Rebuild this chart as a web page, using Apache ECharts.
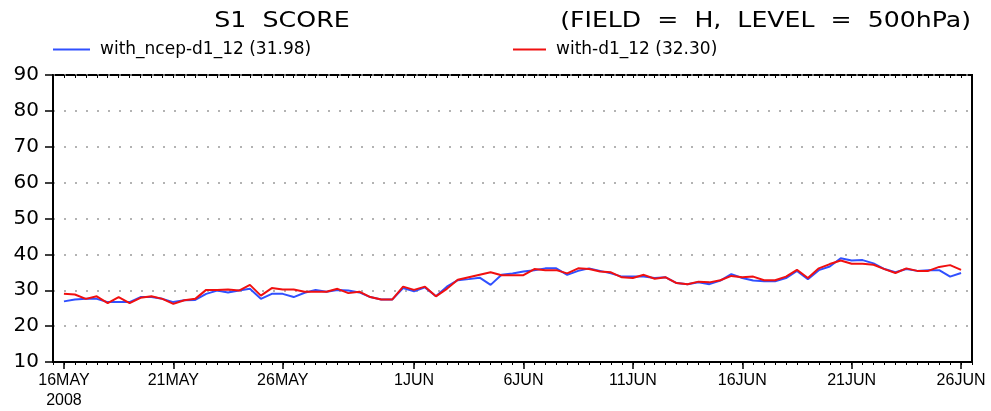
<!DOCTYPE html>
<html>
<head>
<meta charset="utf-8">
<script src="https://cdn.jsdelivr.net/npm/echarts@6/dist/echarts.min.js"></script>
<style>
html,body{margin:0;padding:0;background:#fff;}
#chart{width:991px;height:411px;}
</style>
</head>
<body>
<div id="chart"></div>
<script>
// time steps: every 12 hours starting 16MAY2008 00Z (index 0) to 26JUN2008 00Z (index 82)
const tickIndex = [0, 10, 20, 32, 42, 52, 62, 72, 82];
const tickLabels = ['16MAY\n2008', '21MAY', '26MAY', '1JUN', '6JUN', '11JUN', '16JUN', '21JUN', '26JUN'];
const yTicks = [10, 20, 30, 40, 50, 60, 70, 80, 90];

const seriesNames = ['with_ncep-d1_12 (31.98)', 'with-d1_12 (32.30)'];

const withNcep = [
  26.9, 27.4, 27.6, 27.6, 26.7, 26.7, 26.7, 28.1, 28.1, 27.6,
  26.7, 27.2, 27.3, 29.0, 29.9, 29.4, 29.9, 30.4, 27.6, 29.0,
  29.0, 28.1, 29.3, 30.1, 29.6, 30.1, 29.9, 29.4, 28.1, 27.4,
  27.4, 30.6, 29.7, 30.8, 28.3, 31.0, 32.8, 33.1, 33.5, 31.5,
  34.3, 34.7, 35.2, 35.6, 36.1, 36.1, 34.3, 35.4, 36.1, 35.4,
  34.7, 33.8, 33.8, 33.8, 33.4, 33.6, 32.0, 31.7, 32.2, 31.7,
  32.7, 34.5, 33.4, 32.7, 32.5, 32.5, 33.4, 35.4, 33.1, 35.6,
  36.6, 38.9, 38.3, 38.4, 37.5, 35.9, 35.0, 35.9, 35.4, 35.6,
  35.6, 33.8, 34.8
];

const withD1 = [
  29.0, 28.8, 27.6, 28.3, 26.4, 28.1, 26.4, 27.9, 28.3, 27.6,
  26.2, 27.2, 27.6, 30.1, 30.1, 30.2, 29.9, 31.5, 28.5, 30.6,
  30.2, 30.2, 29.6, 29.6, 29.6, 30.4, 29.2, 29.6, 28.1, 27.4,
  27.4, 31.0, 30.1, 31.0, 28.3, 30.4, 32.9, 33.6, 34.3, 35.0,
  34.2, 34.2, 34.2, 35.9, 35.6, 35.6, 34.7, 36.1, 35.9, 35.2,
  35.0, 33.6, 33.4, 34.3, 33.2, 33.6, 32.0, 31.7, 32.4, 32.2,
  32.8, 34.0, 33.6, 33.8, 32.8, 32.8, 33.8, 35.7, 33.4, 36.1,
  37.3, 38.3, 37.4, 37.4, 37.1, 35.9, 34.8, 36.1, 35.4, 35.4,
  36.5, 37.0, 35.7
];

const stepIndex = [];
for (let i = -1; i <= 83; i++) stepIndex.push(i);

const chart = echarts.init(document.getElementById('chart'));
const labelFont = 'Liberation Sans, Arial, sans-serif';
const wideFont = 'DejaVu Sans, sans-serif';

const pair = arr => arr.map((v, i) => [i, v]);

chart.setOption({
  animation: false,
  backgroundColor: '#fff',
  graphic: [
    { type: 'text', x: 282, y: 21, scaleX: 1.15, style: { text: 'S1  SCORE', font: '22px ' + wideFont, fill: '#000', textAlign: 'center', textVerticalAlign: 'middle' } },
    { type: 'text', x: 971, y: 21, scaleX: 1.145, style: { text: '(FIELD  =  H,  LEVEL  =  500hPa)', font: '22px ' + wideFont, fill: '#000', textAlign: 'right', textVerticalAlign: 'middle' } }
  ],
  legend: [
    { data: [seriesNames[0]], left: 53, top: 41, padding: 0, icon: 'rect', itemWidth: 37, itemHeight: 2, itemGap: 0,
      textStyle: { fontFamily: wideFont, fontSize: 17, color: '#000', padding: [0, 0, 0, 5] } },
    { data: [seriesNames[1]], left: 513, top: 41, padding: 0, icon: 'rect', itemWidth: 33, itemHeight: 2, itemGap: 0,
      textStyle: { fontFamily: wideFont, fontSize: 17, color: '#000', padding: [0, 0, 0, 5] } }
  ],
  grid: { left: 53, right: 19, top: 75, bottom: 47, show: true, borderColor: '#000', borderWidth: 2, containLabel: false },
  xAxis: [
    {
      type: 'value', min: -1, max: 83, position: 'bottom',
      axisLine: { show: true, onZero: false, lineStyle: { color: '#000', width: 2 } },
      axisTick: { show: true, customValues: tickIndex, length: 7, lineStyle: { color: '#000', width: 1.5 } },
      axisLabel: { show: true, customValues: tickIndex, margin: 9, color: '#000', fontFamily: labelFont, fontSize: 16, lineHeight: 20,
        formatter: v => { const k = tickIndex.indexOf(Math.round(v)); return k >= 0 ? tickLabels[k] : ''; } },
      splitLine: { show: false }
    },
    {
      type: 'value', min: -1, max: 83, position: 'bottom',
      axisLine: { show: false, onZero: false },
      axisTick: { show: true, customValues: stepIndex, length: 3, lineStyle: { color: '#000', width: 1 } },
      axisLabel: { show: false, customValues: stepIndex },
      splitLine: { show: false }
    },
    {
      type: 'value', min: -1, max: 83, position: 'top',
      axisLine: { show: false, onZero: false },
      axisTick: { show: true, inside: true, customValues: stepIndex, length: 3, lineStyle: { color: '#000', width: 1 } },
      axisLabel: { show: false, customValues: stepIndex },
      splitLine: { show: false }
    }
  ],
  yAxis: {
    type: 'value', min: 10, max: 90, interval: 10,
    axisLine: { show: true, onZero: false, lineStyle: { color: '#000', width: 2 } },
    axisTick: { show: true, length: 8, lineStyle: { color: '#000', width: 1.5 } },
    axisLabel: { color: '#000', fontFamily: wideFont, fontSize: 20, margin: 14, padding: [4, 0, 0, 0],
      formatter: v => yTicks.includes(v) ? String(v) : '' },
    splitLine: { show: true, lineStyle: { color: '#9a9a9a', width: 1.5, type: [2, 9] } }
  },
  series: [
    { name: seriesNames[0], type: 'line', xAxisIndex: 0, data: pair(withNcep), showSymbol: false, symbol: 'none',
      lineStyle: { color: '#3050ff', width: 2 }, itemStyle: { color: '#3050ff' } },
    { name: seriesNames[1], type: 'line', xAxisIndex: 0, data: pair(withD1), showSymbol: false, symbol: 'none',
      lineStyle: { color: '#f01010', width: 2 }, itemStyle: { color: '#f01010' } }
  ]
});
</script>
</body>
</html>
